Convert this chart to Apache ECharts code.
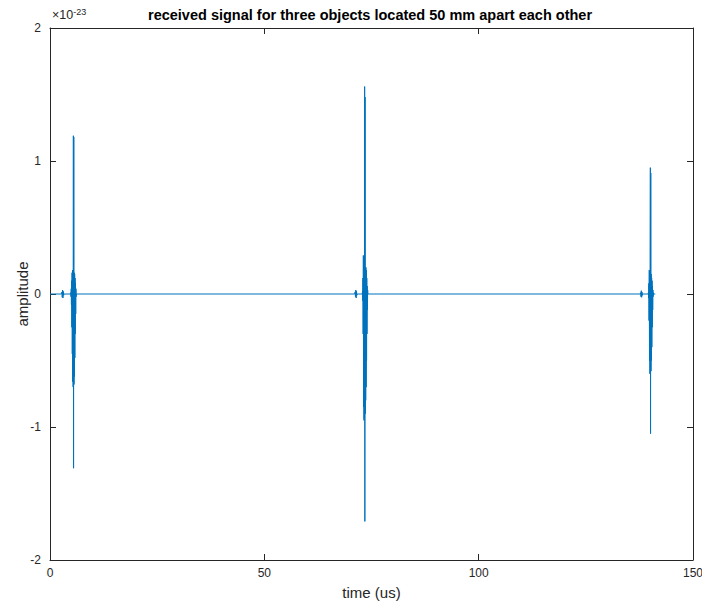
<!DOCTYPE html>
<html>
<head>
<meta charset="utf-8">
<script src="https://cdn.jsdelivr.net/npm/echarts@6/dist/echarts.min.js"></script>
<style>
  html, body { margin: 0; padding: 0; background: #fff; }
  #chart { width: 702px; height: 603px; }
</style>
</head>
<body>
<div id="chart"></div>
<script>
// Amplitudes are in units of 1e-23; time is in microseconds.
const xTicks = [0, 50, 100, 150];
const yTicks = [-2, -1, 0, 1, 2];

// Weak precursor ripples ahead of each echo
const pre1Time = [2.70, 2.78, 2.86, 2.94, 3.02, 3.10, 3.18, 3.26];
const pre1Amp  = [0, 0.015, -0.025, 0.03, -0.03, 0.02, -0.01, 0];
const pre2Time = [71.10, 71.18, 71.26, 71.34, 71.42, 71.50, 71.58, 71.66];
const pre2Amp  = [0, 0.015, -0.02, 0.03, -0.03, 0.02, -0.01, 0];
const pre3Time = [137.70, 137.78, 137.86, 137.94, 138.02, 138.10, 138.18, 138.26];
const pre3Amp  = [0, 0.01, -0.02, 0.025, -0.025, 0.015, -0.01, 0];

// Echo from object 1
const echo1Time = [4.80, 4.85, 4.90, 4.95, 5.00, 5.05, 5.10, 5.15, 5.20, 5.25, 5.30, 5.35, 5.40, 5.45,
                   5.50, 5.55, 5.60, 5.65, 5.70, 5.75, 5.80, 5.85, 5.90, 5.95, 6.00, 6.05, 6.10, 6.15];
const echo1Amp  = [0, 0.01, -0.02, 0.04, -0.08, 0.10, -0.25, 0.16, -0.45, 0.18, -0.66, 0.17, -0.70, 1.19,
                   -1.31, 1.18, -0.68, 0.16, -0.62, 0.15, -0.48, 0.12, -0.30, 0.08, -0.15, 0.04, -0.02, 0];

// Echo from object 2
const echo2Time = [72.85, 72.90, 72.95, 73.00, 73.05, 73.10, 73.15, 73.20, 73.25, 73.30, 73.35, 73.40, 73.45,
                   73.50, 73.55, 73.60, 73.65, 73.70, 73.75, 73.80, 73.85, 73.90, 73.95, 74.00, 74.05, 74.10, 74.15];
const echo2Amp  = [0, 0.02, -0.05, 0.12, -0.30, 0.29, -0.85, 0.28, -0.95, 0.25, -0.93, 1.56, -1.71,
                   1.48, -0.90, 0.20, -0.80, 0.20, -0.70, 0.18, -0.50, 0.12, -0.30, 0.06, -0.12, 0.03, 0];

// Echo from object 3
const echo3Time = [139.55, 139.60, 139.65, 139.70, 139.75, 139.80, 139.85, 139.90, 139.95, 140.00, 140.05,
                   140.10, 140.15, 140.20, 140.25, 140.30, 140.35, 140.40, 140.45, 140.50, 140.55, 140.60,
                   140.65, 140.70, 140.75, 140.80];
const echo3Amp  = [0, 0.01, -0.03, 0.08, -0.20, 0.18, -0.50, 0.17, -0.60, 0.16, 0.95,
                   -1.05, 0.91, -0.58, 0.15, -0.50, 0.12, -0.40, 0.10, -0.25, 0.06, -0.12,
                   0.03, -0.02, 0.01, 0];

const startTime = 0;
const endTime = 141.2;

function pairs(ts, vs) { return ts.map((t, i) => [t, vs[i]]); }

const signal = [[startTime, 0]]
  .concat(pairs(pre1Time, pre1Amp), pairs(echo1Time, echo1Amp))
  .concat(pairs(pre2Time, pre2Amp), pairs(echo2Time, echo2Amp))
  .concat(pairs(pre3Time, pre3Amp), pairs(echo3Time, echo3Amp))
  .concat([[endTime, 0]]);

const axisColor = '#262626';
const font = 'Liberation Sans, Arial, Helvetica, sans-serif';

const chart = echarts.init(document.getElementById('chart'), null, { renderer: 'svg' });

function baseAxis(extra) {
  return Object.assign({
    type: 'value',
    axisLine: { show: true, onZero: false, lineStyle: { color: axisColor, width: 1 } },
    axisTick: { show: true, inside: true, length: 6, lineStyle: { color: axisColor } },
    splitLine: { show: false }
  }, extra);
}

chart.setOption({
  animation: false,
  backgroundColor: '#ffffff',
  grid: { left: 50, right: 9, top: 28, bottom: 43, containLabel: false, outerBoundsMode: 'none' },
  xAxis: [
    baseAxis({
      position: 'bottom', min: xTicks[0], max: xTicks[xTicks.length - 1], interval: 50,
      axisLabel: { color: axisColor, fontSize: 12, fontFamily: font, margin: 7 },
      name: 'time (us)', nameLocation: 'middle', nameGap: 25, nameMoveOverlap: false,
      nameTextStyle: { color: axisColor, fontSize: 15, fontFamily: font }
    }),
    baseAxis({
      position: 'top', min: xTicks[0], max: xTicks[xTicks.length - 1], interval: 50,
      axisLabel: { show: false }
    })
  ],
  yAxis: [
    baseAxis({
      position: 'left', min: yTicks[0], max: yTicks[yTicks.length - 1], interval: 1,
      axisLabel: { color: axisColor, fontSize: 12, fontFamily: font, margin: 9 },
      name: 'amplitude', nameLocation: 'middle', nameGap: 28, nameRotate: 90, nameMoveOverlap: false,
      nameTextStyle: { color: axisColor, fontSize: 15, fontFamily: font, verticalAlign: 'middle' }
    }),
    baseAxis({
      position: 'right', min: yTicks[0], max: yTicks[yTicks.length - 1], interval: 1,
      axisLabel: { show: false }
    })
  ],
  graphic: [
    {
      type: 'text', left: 148, top: 7,
      style: {
        text: 'received signal for three objects located 50 mm apart each other',
        font: 'bold 14.5px ' + font, fill: '#000000'
      }
    },
    {
      type: 'text', left: 52, top: 7,
      style: {
        text: '×10{sup|-23}',
        font: '12.5px ' + font, fill: axisColor,
        rich: { sup: { fontSize: 9, fontFamily: font, fill: axisColor, verticalAlign: 'top', padding: [0, 0, 7, 0] } }
      }
    }
  ],
  series: [{
    type: 'line',
    data: signal,
    showSymbol: false,
    symbol: 'none',
    lineStyle: { color: '#0072BD', width: 1 },
    silent: true
  }]
});
</script>
</body>
</html>
